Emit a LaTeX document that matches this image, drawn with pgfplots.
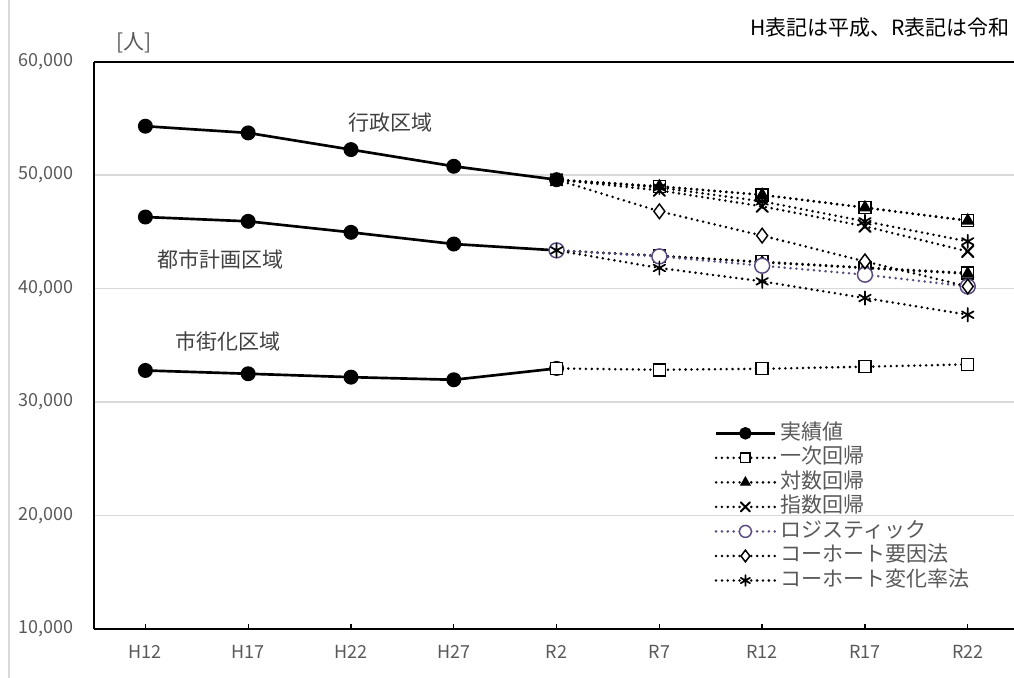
\documentclass[border=0pt]{standalone}
\usepackage{fontspec}
\setmainfont{Noto Sans CJK JP}
\usepackage{pgfplots}
\pgfplotsset{compat=1.18}

\definecolor{tickgray}{HTML}{595959}
\definecolor{labgray}{HTML}{404040}
\definecolor{gridgray}{HTML}{D9D9D9}
\definecolor{logi}{HTML}{5A4A80}

\pgfplotsset{
  act/.style={black, line width=2pt, mark=*, mark size=4.6pt, mark options={solid}},
  fc/.style={black, line width=2.1pt, line cap=round, dash pattern=on 0pt off 4.4pt},
  sq/.style={fc, mark=square*, mark size=4.5pt, mark options={solid, fill=white, line width=1.1pt}},
  tri/.style={fc, mark=triangle*, mark size=5pt, mark options={solid, fill=black, line width=0.8pt}},
  crs/.style={fc, mark=x, mark size=6pt, mark options={solid, line width=1.5pt}},
  circ/.style={fc, logi, mark=*, mark size=5.6pt, mark options={solid, fill=white, draw=logi, line width=1.1pt}},
  dia/.style={fc, mark=diamond*, mark size=5.5pt, mark options={solid, fill=white, line width=1.1pt}},
  ast/.style={fc, mark=asterisk, mark size=5pt, mark options={solid, line width=1.3pt}},
}

\begin{document}
\begin{tikzpicture}
\path[use as bounding box] (-70.5pt,-36.75pt) rectangle (690pt,471.75pt);
\draw[gridgray, line width=1pt] (-63.75pt,-36.75pt) -- (-63.75pt,471.75pt);
\begin{axis}[
  at={(0pt,0pt)}, anchor=south west,
  scale only axis, width=690pt, height=425.6pt,
  xmin=-0.5, xmax=8.45, ymin=10000, ymax=60000,
  axis x line*=bottom, axis y line*=left,
  axis line style={black, line width=1.5pt, -},
  xtick={0,...,8},
  xticklabels={H12,H17,H22,H27,R2,R7,R12,R17,R22},
  ytick={10000,20000,...,60000},
  ymajorgrids, grid style={gridgray, line width=1.1pt},
  tick align=inside, major tick length=4pt,
  xtick style={black, line width=1pt},
  ytick style={draw=none},
  scaled y ticks=false,
  /pgf/number format/assume math mode=true,
  /pgf/number format/fixed,
  /pgf/number format/1000 sep={,},
  ticklabel style={font=\fontsize{13.5}{16}\selectfont, text=tickgray},
  yticklabel style={inner sep=0pt, xshift=-15pt},
  xticklabel style={inner sep=0pt, yshift=-12pt},
  clip=false,
  legend style={draw=none, fill=none, at={(0.670,0.370)}, anchor=north west,
    font=\fontsize{15.75}{18}\selectfont, text=tickgray, row sep=1.4pt,
    nodes={inner ysep=1pt, inner xsep=3.5pt, text height=12pt, text depth=3pt}},
  legend cell align=left,
  legend image code/.code={\draw[mark indices={2}, every mark/.append style={scale=0.8}] plot coordinates {(0pt,0pt)(22pt,0pt)(44pt,0pt)};},
]
% actual values
\addplot[act] coordinates {(0,54300)(1,53710)(2,52240)(3,50770)(4,49590)};
\addlegendentry{実績値}
\addplot[act, forget plot] coordinates {(0,46300)(1,45920)(2,44950)(3,43920)(4,43360)};
\addplot[act, forget plot] coordinates {(0,32780)(1,32490)(2,32190)(3,31960)(4,32960)};

% linear regression
\addplot[sq, mark indices={2,3,4,5}] coordinates {(4,49590)(5,49000)(6,48250)(7,47130)(8,45980)};
\addlegendentry{一次回帰}
\addplot[sq, mark indices={2,3,4,5}, forget plot] coordinates {(4,43360)(5,42880)(6,42360)(7,41850)(8,41370)};
\addplot[sq, forget plot] coordinates {(4,32960)(5,32840)(6,32930)(7,33110)(8,33320)};

% logarithmic regression
\addplot[tri, mark indices={2,3,4,5}] coordinates {(4,49590)(5,49000)(6,48250)(7,47130)(8,45980)};
\addlegendentry{対数回帰}
\addplot[tri, mark indices={2,3,4,5}, forget plot] coordinates {(4,43360)(5,42880)(6,42300)(7,41800)(8,41300)};

% exponential regression
\addplot[crs] coordinates {(4,49590)(5,48650)(6,47240)(7,45480)(8,43270)};
\addlegendentry{指数回帰}

% logistic
\addplot[circ] coordinates {(4,43360)(5,42830)(6,42010)(7,41220)(8,40180)};
\addlegendentry{ロジスティック}

% cohort component
\addplot[dia, mark indices={2,3,4,5}] coordinates {(4,49590)(5,46800)(6,44660)(7,42390)(8,40180)};
\addlegendentry{コーホート要因法}

% cohort change rate
\addplot[ast] coordinates {(4,49590)(5,48900)(6,47680)(7,45920)(8,44150)};
\addlegendentry{コーホート変化率法}
\addplot[ast, forget plot] coordinates {(4,43360)(5,41810)(6,40630)(7,39160)(8,37690)};

\draw[black, line width=1.5pt] (rel axis cs:0,1) -- (rel axis cs:1,1);

\node[text=labgray, font=\fontsize{15.75}{18}\selectfont] at (axis cs:2.38,54610) {行政区域};
\node[text=labgray, font=\fontsize{15.75}{18}\selectfont] at (axis cs:0.73,42570) {都市計画区域};
\node[text=labgray, font=\fontsize{15.75}{18}\selectfont] at (axis cs:0.80,35310) {市街化区域};
\node[text=tickgray, font=\fontsize{15.75}{18}\selectfont] at (axis cs:-0.11,61630) {[人]};
\node[anchor=east, inner sep=0pt, text=black, font=\fontsize{15.75}{18}\selectfont] at (axis cs:8.41,62950) {H表記は平成、R表記は令和};
\end{axis}
\end{tikzpicture}
\end{document}
